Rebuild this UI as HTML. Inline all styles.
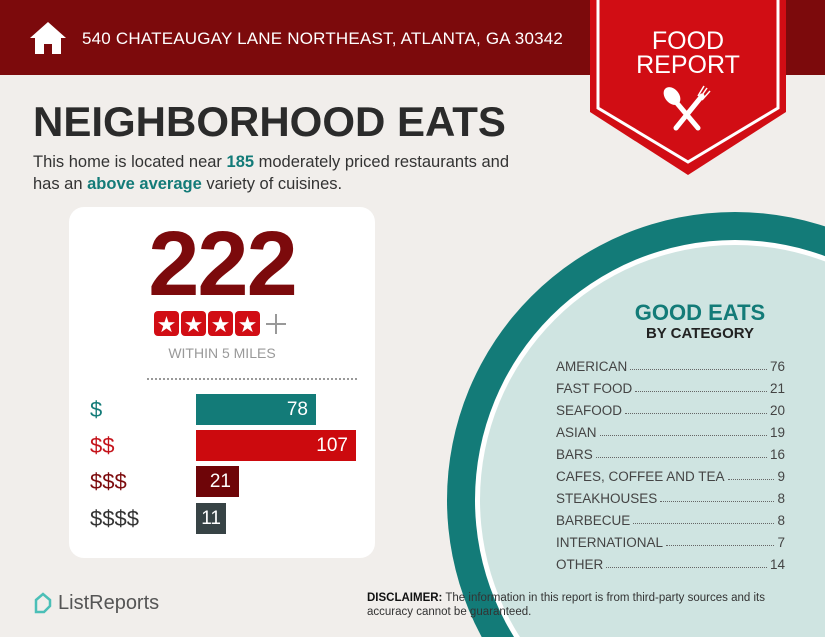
<!DOCTYPE html>
<html><head><style>
*{margin:0;padding:0;box-sizing:border-box}
html,body{width:825px;height:637px;overflow:hidden}
body{background:#f1eeeb;font-family:"Liberation Sans",sans-serif;position:relative}
.a{position:absolute}
.hdr{left:0;top:0;width:825px;height:75px;background:#7c0a0c}
.addr{left:82px;top:29px;color:#fff;font-size:17px;letter-spacing:0.2px}
h1{position:absolute;left:33px;top:98px;font-size:42px;font-weight:bold;color:#2b2b2b;letter-spacing:0px}
.sub{left:33px;top:151px;font-size:16.5px;color:#333;line-height:22px}
.sub b{color:#137b78}
.card{left:69px;top:207px;width:306px;height:351px;background:#fff;border-radius:15px}
.big{left:69px;top:212px;width:306px;text-align:center;font-size:92px;font-weight:bold;color:#7c0a0c;letter-spacing:-2px}
.dots{left:147px;top:378px;width:210px;border-top:2px dotted #999}
.lbl{left:90px;font-size:22px}
.bar{left:196px;height:31px;color:#fff;font-size:19px;text-align:right;padding-right:8px;line-height:31px}
.cat{left:556px;width:229px;font-size:13.5px;color:#444;display:flex;white-space:nowrap}
.cat span.d{flex:1;border-bottom:1px dotted #666;margin:0 3px 4px}
</style></head><body>
<div class="a hdr"></div>
<svg class="a" style="left:28px;top:20px" width="40" height="36" viewBox="0 0 40 36"><path d="M20 2 L38 18 L33 18 L33 34 L24 34 L24 24 L16 24 L16 34 L7 34 L7 18 L2 18Z" fill="#fff"/></svg>
<div class="a addr">540 CHATEAUGAY LANE NORTHEAST, ATLANTA, GA 30342</div>
<svg class="a" style="left:0;top:0" width="825" height="637" viewBox="0 0 825 637">
<circle cx="735" cy="500" r="288" fill="#137b78"/>
<circle cx="735" cy="500" r="260" fill="#fff"/>
<circle cx="735" cy="500" r="255" fill="#cfe4e1"/>
</svg>
<svg class="a" style="left:590px;top:0" width="196" height="176" viewBox="0 0 196 176">
<path d="M0 0 H196 V112 L98 175 L0 112Z" fill="#d10d14"/>
<path d="M8 0 V108 L98 162 L188 108 V0" fill="none" stroke="#fff" stroke-width="3"/>
<text x="98" y="49" fill="#fff" font-size="25" text-anchor="middle" font-family="Liberation Sans">FOOD</text>
<text x="98" y="73" fill="#fff" font-size="25" text-anchor="middle" font-family="Liberation Sans">REPORT</text>
<g stroke="#fff" stroke-width="5" stroke-linecap="round"><line x1="86" y1="102" x2="108" y2="128"/><line x1="112" y1="96" x2="86" y2="128"/></g>
<ellipse cx="82" cy="96" rx="7" ry="10" transform="rotate(-40 82 96)" fill="#fff"/>
<g stroke="#fff" stroke-width="1.5"><line x1="110" y1="98" x2="117" y2="88"/><line x1="112" y1="100" x2="120" y2="91"/><line x1="108" y1="96" x2="114" y2="86"/></g>
</svg>
<h1>NEIGHBORHOOD EATS</h1>
<div class="a sub">This home is located near <b>185</b> moderately priced restaurants and<br>has an <b>above average</b> variety of cuisines.</div>
<div class="a card"></div>
<div class="a big">222</div>
<svg class="a" style="left:154px;top:311px" width="140" height="27">
<g fill="#d10d14"><rect x="0" y="0" width="25" height="25" rx="4"/><rect x="27" y="0" width="25" height="25" rx="4"/><rect x="54" y="0" width="25" height="25" rx="4"/><rect x="81" y="0" width="25" height="25" rx="4"/></g>
<g fill="#fff" font-size="22" text-anchor="middle" font-family="DejaVu Sans"><text x="12.5" y="21">★</text><text x="39.5" y="21">★</text><text x="66.5" y="21">★</text><text x="93.5" y="21">★</text></g>
<g stroke="#999" stroke-width="2"><line x1="112" y1="13" x2="132" y2="13"/><line x1="122" y1="3" x2="122" y2="23"/></g>
</svg>
<div class="a" style="left:69px;width:306px;top:345px;text-align:center;color:#999;font-size:14px">WITHIN 5 MILES</div>
<div class="a dots"></div>
<div class="a lbl" style="top:397px;color:#137b78">$</div>
<div class="a lbl" style="top:433px;color:#c4121a">$$</div>
<div class="a lbl" style="top:469px;color:#7c0a0c">$$$</div>
<div class="a lbl" style="top:506px;color:#333">$$$$</div>
<div class="a bar" style="top:394px;width:120px;background:#137b78">78</div>
<div class="a bar" style="top:430px;width:160px;background:#cc0a0e">107</div>
<div class="a bar" style="top:466px;width:43px;background:#6e0508">21</div>
<div class="a bar" style="top:503px;width:30px;background:#374345;padding-right:5px">11</div>
<svg class="a" style="left:33px;top:592px" width="20" height="22"><path d="M3 8 L10 2 L17 8 V14 L11 20 H3Z" fill="none" stroke="#4bbfb7" stroke-width="2.5"/></svg>
<div class="a" style="left:58px;top:592px;font-size:20px;color:#555">ListReports</div>
<div class="a" style="left:600px;top:300px;width:200px;text-align:center;color:#137b78;font-size:22px;font-weight:bold">GOOD EATS</div>
<div class="a" style="left:600px;top:325px;width:200px;text-align:center;color:#222;font-size:15px;font-weight:bold">BY CATEGORY</div>
<div class="a cat" style="top:359px">AMERICAN<span class="d"></span>76</div>
<div class="a cat" style="top:381px">FAST FOOD<span class="d"></span>21</div>
<div class="a cat" style="top:403px">SEAFOOD<span class="d"></span>20</div>
<div class="a cat" style="top:425px">ASIAN<span class="d"></span>19</div>
<div class="a cat" style="top:447px">BARS<span class="d"></span>16</div>
<div class="a cat" style="top:469px">CAFES, COFFEE AND TEA<span class="d"></span>9</div>
<div class="a cat" style="top:491px">STEAKHOUSES<span class="d"></span>8</div>
<div class="a cat" style="top:513px">BARBECUE<span class="d"></span>8</div>
<div class="a cat" style="top:535px">INTERNATIONAL<span class="d"></span>7</div>
<div class="a cat" style="top:557px">OTHER<span class="d"></span>14</div>
<div class="a" style="left:367px;top:591px;font-size:11.5px;color:#333;line-height:14px"><b style="color:#111">DISCLAIMER:</b> The information in this report is from third-party sources and its<br>accuracy cannot be guaranteed.</div>
</body></html>
